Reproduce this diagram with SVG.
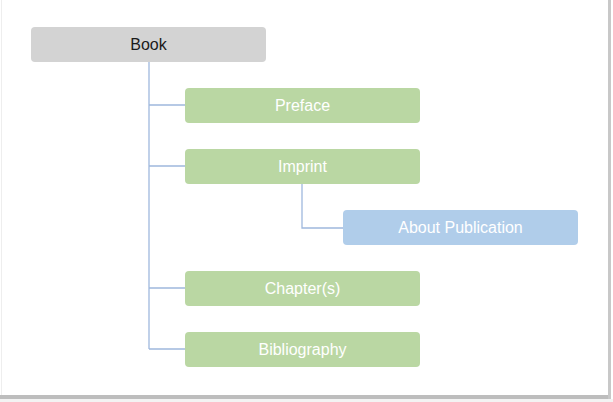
<svg xmlns="http://www.w3.org/2000/svg" width="613" height="402" viewBox="0 0 613 402">
<style>
.box{stroke:none}
.g{fill:#bad7a3}
.b{fill:#b0cdea}
.k{fill:#d3d3d3}
text{font-family:"Liberation Sans","Noto Sans",Arial,sans-serif;font-size:16px;text-anchor:middle;dominant-baseline:central}
.w{fill:#ffffff}
.d{fill:#1a1a1a}
#connectors path{fill:none;stroke:#9fb8dd;stroke-width:1.3}
</style>
<rect x="0" y="0" width="613" height="402" fill="#ffffff"/>
<g id="frame">
<line x1="1.5" y1="0" x2="1.5" y2="396" stroke="#eeeeee" stroke-width="1"/>
<rect x="0" y="395" width="611" height="4" fill="#bdbdbd"/>
<rect x="608" y="0" width="3" height="399" fill="#c8c8c8"/>
<rect x="0" y="399" width="613" height="3" fill="#f3f3f3"/>
</g>
<g id="connectors">
<path d="M149 62 V349 M149 105 H185 M149 166 H185 M149 288 H185 M149 349 H185"/>
<path d="M302 184 V228 H343"/>
</g>
<g id="book"><rect class="box k" x="31" y="27" width="235" height="35" rx="4"/><text class="d" x="148.5" y="44.5">Book</text></g>
<g id="preface"><rect class="box g" x="185" y="88" width="235" height="35" rx="4"/><text class="w" x="302.5" y="105.5">Preface</text></g>
<g id="imprint"><rect class="box g" x="185" y="149" width="235" height="35" rx="4"/><text class="w" x="302.5" y="166.5">Imprint</text></g>
<g id="about"><rect class="box b" x="343" y="210" width="235" height="35" rx="4"/><text class="w" x="460.5" y="227.5">About Publication</text></g>
<g id="chapters"><rect class="box g" x="185" y="271" width="235" height="35" rx="4"/><text class="w" x="302.5" y="288.5">Chapter(s)</text></g>
<g id="bibliography"><rect class="box g" x="185" y="332" width="235" height="35" rx="4"/><text class="w" x="302.5" y="349.5">Bibliography</text></g>
</svg>
